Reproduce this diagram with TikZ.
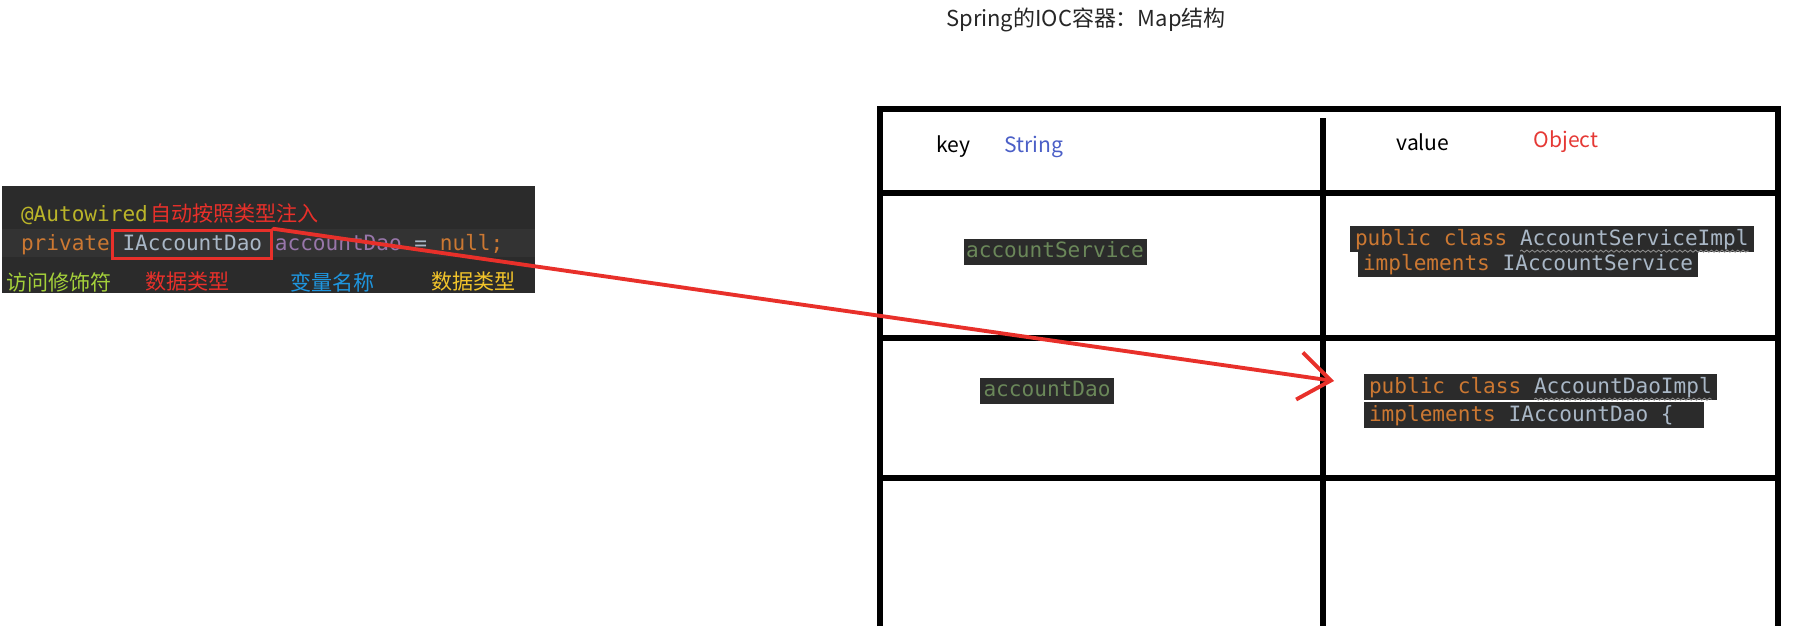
\documentclass[tikz,border=0pt]{standalone}
\usepackage{fontspec}
\setmainfont{Noto Sans CJK SC}
\setmonofont{DejaVu Sans Mono}
\usetikzlibrary{arrows.meta, positioning, fit, backgrounds, decorations.pathmorphing}
\definecolor{codebg}{HTML}{2B2B2B}
\definecolor{codeline}{HTML}{333333}
\definecolor{kworange}{HTML}{CC7832}
\definecolor{identgray}{HTML}{A9B7C6}
\definecolor{annoyellow}{HTML}{BBB529}
\definecolor{varpurple}{HTML}{9876AA}
\definecolor{strgreen}{HTML}{6A8759}
\definecolor{markred}{HTML}{E8302A}
\definecolor{lblgreen}{HTML}{A4D03A}
\definecolor{lblblue}{HTML}{1E96E0}
\definecolor{lblyellow}{HTML}{F2C42A}
\definecolor{keyblue}{HTML}{4B5FC7}
\definecolor{objred}{HTML}{E53935}
\definecolor{wavegray}{HTML}{8C8C8C}
\newcommand{\msp}{\mbox{\ }}
\tikzset{
    codetxt/.style={inner sep=0pt, outer sep=0pt, anchor=base west, font=\ttfamily\fontsize{12}{14}\selectfont, text=identgray},
    codefill/.style={fill=codebg, inner xsep=3pt, inner ysep=1.5pt},
    cjklabel/.style={inner sep=0pt, anchor=west, font=\fontsize{12}{14}\selectfont, text=#1},
    headtxt/.style={inner sep=0pt, font=\fontsize{12}{14}\selectfont, text=#1},
    markbox/.style={draw=markred, line width=1.7pt, inner xsep=5.5pt, inner ysep=2.5pt},
    markarrow/.style={draw=markred, line width=2.2pt, line cap=round, -{Straight Barb[length=18pt, width=27pt]}},
    wavy/.style={draw=wavegray, line width=0.5pt, decorate, decoration={snake, amplitude=0.6pt, segment length=3pt}},
    gridline/.style={line width=3pt, black}
}
\begin{document}
\begin{tikzpicture}[x=0.02cm, y=-0.02cm]
\useasboundingbox (0,0) rectangle (1799,626);

\node[headtxt=black!85, font=\fontsize{12.5}{15}\selectfont] (title) at (1086,20) {Spring的IOC容器：Map结构};

% code snippet
\fill[codebg] (2,186) rectangle (535,293);
\fill[codeline] (2,229) rectangle (535,257);
\node[codetxt, text=annoyellow] (anno) at (21,221) {@Autowired};
\node[cjklabel=markred, anchor=base west] (annonote) at (150,221) {自动按照类型注入};
\node[codetxt, text=kworange] (priv) at (21,250) {private\msp};
\node[codetxt] (iad) at (priv.base east) {IAccountDao\vphantom{p}};
\node[codetxt] (decl) at (iad.base east) {\msp\textcolor{varpurple}{accountDao} = \textcolor{kworange}{null;}};
\node[markbox, fit=(iad)] (iadbox) {};
\node[cjklabel=lblgreen] (lblmod) at (6,282) {访问修饰符};
\node[cjklabel=markred] (lbltype) at (145,282) {数据类型};
\node[cjklabel=lblblue] (lblvar) at (290,282) {变量名称};
\node[cjklabel=lblyellow] (lbltype2) at (431,282) {数据类型};

% map table
\draw[gridline] (880,626) -- (880,109) -- (1778,109) -- (1778,626);
\draw[gridline] (1323,118) -- (1323,626);
\foreach \rowy in {193,338,478}
    \draw[gridline] (880,\rowy) -- (1778,\rowy);

\node[headtxt=black] (keyhd) at (953,147) {key};
\node[headtxt=keyblue] (keytype) at (1034,147) {String};
\node[headtxt=black] (valhd) at (1423,142) {value};
\node[headtxt=objred] (valtype) at (1566,142) {Object};

\node[codetxt, anchor=center, fill=codebg, inner xsep=1.5pt, inner ysep=1.5pt, text=strgreen] (ksvc) at (1055,252) {accountService\vphantom{p}};
\node[codetxt, anchor=center, fill=codebg, inner xsep=2pt, inner ysep=2pt, text=strgreen] (kdao) at (1047,391) {accountDao\vphantom{p}};

\node[codetxt, text=kworange] (svckw) at (1355,245) {public class\msp};
\node[codetxt] (svccls) at (svckw.base east) {AccountServiceImpl};
\node[codetxt, text=kworange] (svcimp) at (1363,270) {implements\msp};
\node[codetxt] (svcif) at (svcimp.base east) {IAccountService};
\draw[wavy] ([yshift=-1pt]svccls.south west) -- ([yshift=-1pt]svccls.south east);

\node[codetxt, text=kworange] (daokw) at (1369,393) {public class\msp};
\node[codetxt] (daocls) at (daokw.base east) {AccountDaoImpl};
\node[codetxt, text=kworange] (daoimp) at (1369,421) {implements\msp};
\node[codetxt] (daoif) at (daoimp.base east) {IAccountDao \{\msp\msp};
\draw[wavy] ([yshift=-1pt]daocls.south west) -- ([yshift=-1pt]daocls.south east);

\begin{scope}[on background layer]
    \node[codefill, fit=(svckw) (svccls)] (svcline1) {};
    \node[codefill, fit=(svcimp) (svcif)] (svcline2) {};
    \node[codefill, fit=(daokw) (daocls)] (daoline1) {};
    \node[codefill, fit=(daoimp) (daoif)] (daoline2) {};
\end{scope}

\coordinate (daotip) at (1334,381);
\draw[markarrow] (iadbox.north east) -- (daotip);

\end{tikzpicture}
\end{document}
